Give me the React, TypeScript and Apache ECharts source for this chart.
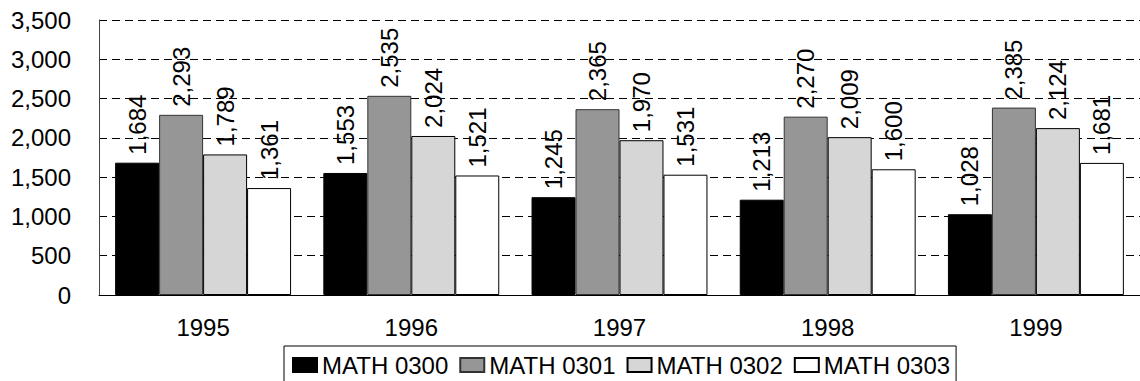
import React, { useEffect, useRef } from "react";
import * as echarts from "echarts";

const years = ["1995", "1996", "1997", "1998", "1999"];
const seriesNames = ["MATH 0300", "MATH 0301", "MATH 0302", "MATH 0303"];
const math0300 = [1684, 1553, 1245, 1213, 1028];
const math0301 = [2293, 2535, 2365, 2270, 2385];
const math0302 = [1789, 2024, 1970, 2009, 2124];
const math0303 = [1361, 1521, 1531, 1600, 1681];
const colors = ["#000000", "#969696", "#d6d6d6", "#ffffff"];
const borderColors = ["#000000", "#333333", "#000000", "#000000"];

const fmt = (v: number) => Number(v).toLocaleString("en-US");
const FONT = "'Liberation Sans', Arial, sans-serif";

export default function App() {
  const ref = useRef<HTMLDivElement>(null);
  useEffect(() => {
    if (!ref.current) return;
    const chart = echarts.init(ref.current, undefined, { renderer: "svg" });
    const values = [math0300, math0301, math0302, math0303];
    chart.setOption({
      animation: false,
      textStyle: { fontFamily: FONT },
      grid: { left: 99, top: 20, width: 1047, height: 275, containLabel: false },
      legend: {
        left: 284,
        top: 346,
        padding: [7, 6, 7, 8],
        itemWidth: 24,
        itemHeight: 14,
        itemGap: 11,
        borderColor: "#000",
        borderWidth: 1,
        borderRadius: 0,
        icon: "rect",
        textStyle: { fontSize: 24, color: "#000", fontFamily: FONT },
        data: seriesNames,
      },
      xAxis: {
        type: "category",
        data: years,
        axisLine: { show: true, lineStyle: { color: "#000", width: 1 } },
        axisTick: { show: false },
        axisLabel: { fontSize: 24, color: "#000", margin: 20, fontFamily: FONT },
      },
      yAxis: {
        type: "value",
        min: 0,
        max: 3500,
        interval: 500,
        axisLine: { show: true, lineStyle: { color: "#444", width: 1 } },
        axisTick: { show: false },
        axisLabel: {
          fontSize: 24,
          color: "#000",
          margin: 28,
          fontFamily: FONT,
          formatter: (v: number) => fmt(v),
        },
        splitLine: {
          show: true,
          lineStyle: { color: "#000", type: [8, 5], width: 1 },
        },
      },
      series: seriesNames.map((name, i) => ({
        name,
        type: "bar",
        data: values[i],
        barGap: "0%",
        barCategoryGap: "15.5%",
        itemStyle: {
          color: colors[i],
          borderColor: borderColors[i],
          borderWidth: 1,
        },
        label: {
          show: true,
          position: "top",
          rotate: 90,
          align: "left",
          verticalAlign: "middle",
          distance: 8,
          fontSize: 24,
          color: "#000",
          fontFamily: FONT,
          formatter: (p: any) => fmt(p.value),
        },
      })),
    });
    return () => chart.dispose();
  }, []);
  return (
    <div
      ref={ref}
      style={{ position: "fixed", left: 0, top: 0, width: 1140, height: 381, background: "#fff" }}
    />
  );
}
